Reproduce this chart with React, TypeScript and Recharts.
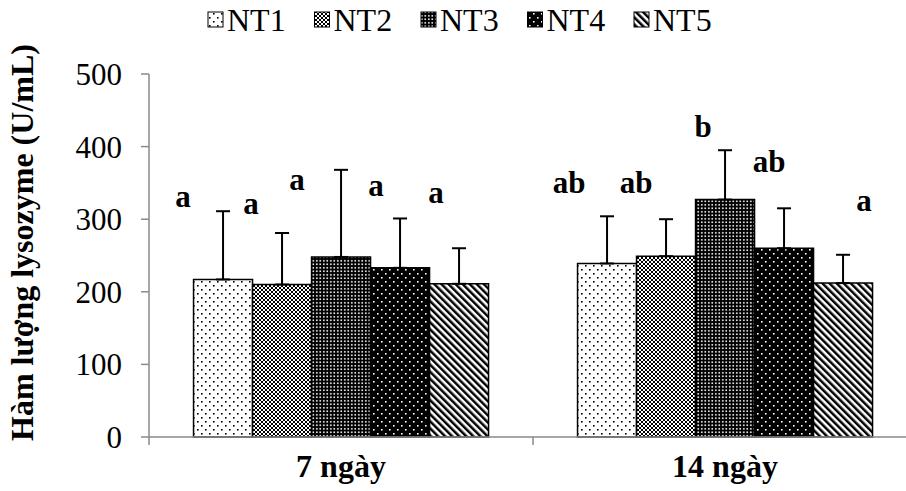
import { BarChart, Bar, XAxis, YAxis, ErrorBar, LabelList } from "recharts";

const categories = ["7 ngày", "14 ngày"];
const series = ["NT1", "NT2", "NT3", "NT4", "NT5"];

const nt1 = [217, 239];
const nt2 = [210, 249];
const nt3 = [248, 327];
const nt4 = [233, 260];
const nt5 = [211, 212];

const err1 = [94, 65];
const err2 = [71, 51];
const err3 = [120, 68];
const err4 = [68, 55];
const err5 = [49, 39];

const letters1 = ["a", "ab"];
const letters2 = ["a", "ab"];
const letters3 = ["a", "b"];
const letters4 = ["a", "ab"];
const letters5 = ["a", "a"];

const yTicks = [0, 100, 200, 300, 400, 500];

// where the significance letters sit (U/mL level and shift from bar centre)
const labelAt = [
  [331, 350],
  [322, 350],
  [354, 427],
  [346, 379],
  [337, 326],
];
const labelDx = [
  [-40, -38],
  [-31, -30],
  [-44, -22],
  [-24, -15],
  [-23, 21],
];

const values = [nt1, nt2, nt3, nt4, nt5];
const errors = [err1, err2, err3, err4, err5];
const letters = [letters1, letters2, letters3, letters4, letters5];

const data = categories.map((name, i) => {
  const row: Record<string, any> = { name };
  series.forEach((s, k) => {
    row[s] = values[k][i];
    row[s + "_err"] = [0, errors[k][i]];
  });
  return row;
});

const FONT = '"Liberation Serif", "Times New Roman", serif';
const AXIS = "#8a8a8a";

function Patterns() {
  return (
    <defs>
      <pattern id="p1" width="8" height="8" patternUnits="userSpaceOnUse">
        <rect width="8" height="8" fill="#fff" />
        <rect x="1" y="1" width="1.6" height="1.6" fill="#000" />
        <rect x="5" y="5" width="1.6" height="1.6" fill="#000" />
      </pattern>
      <pattern id="p2" width="4" height="4" patternUnits="userSpaceOnUse">
        <rect width="4" height="4" fill="#fff" />
        <path d="M0,0 L4,4 M4,0 L0,4" stroke="#000" strokeWidth="1" />
      </pattern>
      <pattern id="p3" width="3.5" height="3.5" patternUnits="userSpaceOnUse">
        <rect width="3.5" height="3.5" fill="#000" />
        <rect x="1" y="1" width="1.6" height="1.6" fill="#fff" />
      </pattern>
      <pattern id="p4" width="8" height="8" patternUnits="userSpaceOnUse">
        <rect width="8" height="8" fill="#000" />
        <rect x="1" y="1" width="1.6" height="1.6" fill="#fff" />
        <rect x="5" y="5" width="1.6" height="1.6" fill="#fff" />
      </pattern>
      <pattern
        id="p5"
        width="5"
        height="5"
        patternUnits="userSpaceOnUse"
        patternTransform="rotate(-45)"
      >
        <rect width="5" height="5" fill="#fff" />
        <rect width="2.5" height="5" fill="#000" />
      </pattern>
    </defs>
  );
}

function TopLegend() {
  return (
    <svg width={906} height={44} style={{ position: "absolute", left: 0, top: 0 }}>
      <Patterns />
      {series.map((s, k) => {
        const x0 = 208 + k * 106.5;
        return (
          <g key={s}>
            <rect x={x0} y={12} width={15} height={15} fill={`url(#p${k + 1})`} stroke="#000" strokeWidth={1} />
            <text x={x0 + 19} y={31} fontFamily={FONT} fontSize={32} fill="#000">
              {s}
            </text>
          </g>
        );
      })}
    </svg>
  );
}

function XTick(props: any) {
  const { x, y, payload, index, visibleTicksCount } = props;
  const half = payload.offset ?? 192;
  const axisY = y - 8;
  return (
    <g>
      <line x1={x - half} x2={x - half} y1={axisY} y2={axisY + 8} stroke={AXIS} strokeWidth={1.5} />
      {index === visibleTicksCount - 1 && (
        <line x1={x + half} x2={x + half} y1={axisY} y2={axisY + 8} stroke={AXIS} strokeWidth={1.5} />
      )}
      <text x={x} y={axisY + 40} textAnchor="middle" fontFamily={FONT} fontWeight="bold" fontSize={32} fill="#000">
        {payload.value}
      </text>
    </g>
  );
}

function YTitle(props: any) {
  const vb = props.viewBox || { x: 0, y: 74, width: 149, height: 363 };
  const cx = 22;
  const cy = vb.y + vb.height / 2 - 13;
  return (
    <text
      x={cx}
      y={cy}
      transform={`rotate(-90, ${cx}, ${cy})`}
      textAnchor="middle"
      dominantBaseline="central"
      fontFamily={FONT}
      fontWeight="bold"
      fontSize={32}
      fill="#000"
    >
      Hàm lượng lysozyme (U/mL)
    </text>
  );
}

function makeLetter(k: number) {
  return (props: any) => {
    const { x, y, width, height, index } = props;
    const v = values[k][index];
    const zeroY = y + height;
    const pxPerUnit = height / v;
    const ly = zeroY - labelAt[k][index] * pxPerUnit;
    return (
      <text
        x={x + width / 2 + labelDx[k][index]}
        y={ly}
        textAnchor="middle"
        dominantBaseline="central"
        fontFamily={FONT}
        fontWeight="bold"
        fontSize={31}
        fill="#000"
      >
        {letters[k][index]}
      </text>
    );
  };
}

export default function App() {
  return (
    <div
      style={{
        position: "fixed",
        left: 0,
        top: 0,
        width: 906,
        height: 491,
        overflow: "hidden",
        background: "#fff",
      }}
    >
      <TopLegend />
      <div style={{ position: "absolute", left: 0, top: 0 }}>
        <BarChart
          width={940}
          height={491}
          data={data}
          margin={{ top: 74, right: 23, left: 0, bottom: 0 }}
          barCategoryGap="11.6%"
          barGap={0}
        >
          <Patterns />
          <XAxis
            dataKey="name"
            height={54}
            axisLine={{ stroke: AXIS, strokeWidth: 1.5 }}
            tickLine={false}
            tickSize={8}
            tickMargin={0}
            tick={<XTick />}
            interval={0}
          />
          <YAxis
            width={149}
            domain={[0, 500]}
            ticks={yTicks}
            interval={0}
            axisLine={{ stroke: AXIS, strokeWidth: 1.5 }}
            tickLine={{ stroke: AXIS, strokeWidth: 1.5 }}
            tickSize={8}
            tickMargin={19}
            tick={{ fill: "#000", fontSize: 31, fontFamily: FONT }}
            label={<YTitle />}
          />
          {series.map((s, k) => (
            <Bar
              key={s}
              dataKey={s}
              fill={`url(#p${k + 1})`}
              stroke="#000"
              strokeWidth={1.5}
              isAnimationActive={false}
            >
              <ErrorBar dataKey={s + "_err"} width={7} stroke="#000" strokeWidth={2} direction="y" />
              <LabelList dataKey={s} content={makeLetter(k)} />
            </Bar>
          ))}
        </BarChart>
      </div>
    </div>
  );
}
